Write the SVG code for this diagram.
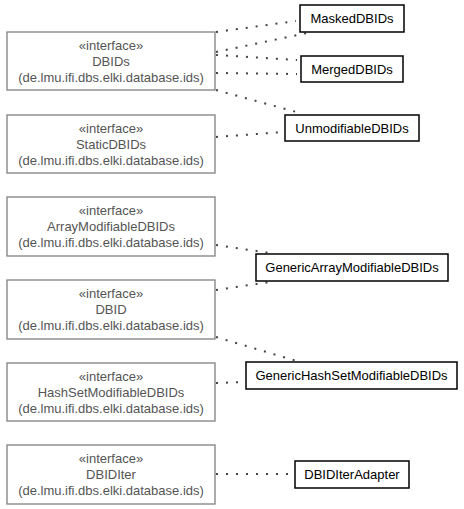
<svg xmlns="http://www.w3.org/2000/svg" width="464" height="509" viewBox="0 0 464 509">
<style>
.iface rect{fill:#fff;stroke:#808080;stroke-width:1.3}
.iface text{fill:#555;font-family:"Liberation Sans",Arial,sans-serif;font-size:13px;text-anchor:middle}
.cls rect{fill:#fff;stroke:#000;stroke-width:1.5}
.cls text{fill:#000;font-family:"Liberation Sans",Arial,sans-serif;font-size:13px;text-anchor:middle}
#connectors line{stroke:#444;stroke-width:2;stroke-dasharray:2,8;fill:none}
</style>
<rect width="464" height="509" fill="#fff"/>
<g id="connectors">
<line x1="216" y1="32" x2="296" y2="21"/>
<line x1="216" y1="52" x2="312" y2="32"/>
<line x1="216" y1="55" x2="297" y2="60"/>
<line x1="216" y1="73" x2="297" y2="74"/>
<line x1="216" y1="90" x2="300" y2="113"/>
<line x1="216" y1="137" x2="284" y2="132"/>
<line x1="216" y1="245" x2="270" y2="253"/>
<line x1="216" y1="290" x2="270" y2="282"/>
<line x1="216" y1="337" x2="300" y2="362"/>
<line x1="216" y1="383" x2="244" y2="382"/>
<line x1="216" y1="474" x2="294" y2="474"/>
</g>
<g id="DBIDs" class="iface"><rect x="7" y="32" width="208" height="58"/><text x="111" y="49.5">«interface»</text><text x="111" y="65.5">DBIDs</text><text x="111" y="81.5">(de.lmu.ifi.dbs.elki.database.ids)</text></g>
<g id="StaticDBIDs" class="iface"><rect x="7" y="115" width="208" height="58"/><text x="111" y="132.5">«interface»</text><text x="111" y="148.5">StaticDBIDs</text><text x="111" y="164.5">(de.lmu.ifi.dbs.elki.database.ids)</text></g>
<g id="ArrayModifiableDBIDs" class="iface"><rect x="7" y="197" width="208" height="59"/><text x="111" y="214.5">«interface»</text><text x="111" y="230.5">ArrayModifiableDBIDs</text><text x="111" y="246.5">(de.lmu.ifi.dbs.elki.database.ids)</text></g>
<g id="DBID" class="iface"><rect x="7" y="280" width="208" height="59"/><text x="111" y="297.5">«interface»</text><text x="111" y="313.5">DBID</text><text x="111" y="329.5">(de.lmu.ifi.dbs.elki.database.ids)</text></g>
<g id="HashSetModifiableDBIDs" class="iface"><rect x="7" y="363" width="208" height="58"/><text x="111" y="380.5">«interface»</text><text x="111" y="396.5">HashSetModifiableDBIDs</text><text x="111" y="412.5">(de.lmu.ifi.dbs.elki.database.ids)</text></g>
<g id="DBIDIter" class="iface"><rect x="7" y="445" width="208" height="59"/><text x="111" y="462.5">«interface»</text><text x="111" y="478.5">DBIDIter</text><text x="111" y="494.5">(de.lmu.ifi.dbs.elki.database.ids)</text></g>
<g id="MaskedDBIDs" class="cls"><rect x="300" y="5" width="104" height="27"/><text x="352" y="23">MaskedDBIDs</text></g>
<g id="MergedDBIDs" class="cls"><rect x="301" y="56" width="102" height="26"/><text x="352" y="74">MergedDBIDs</text></g>
<g id="UnmodifiableDBIDs" class="cls"><rect x="285" y="115" width="134" height="26"/><text x="352" y="132.5">UnmodifiableDBIDs</text></g>
<g id="GenericArrayModifiableDBIDs" class="cls"><rect x="256" y="254" width="192" height="27"/><text x="352" y="272">GenericArrayModifiableDBIDs</text></g>
<g id="GenericHashSetModifiableDBIDs" class="cls"><rect x="246" y="362" width="211" height="27"/><text x="351.5" y="380">GenericHashSetModifiableDBIDs</text></g>
<g id="DBIDIterAdapter" class="cls"><rect x="295" y="461" width="114" height="27"/><text x="352" y="479">DBIDIterAdapter</text></g>
</svg>
